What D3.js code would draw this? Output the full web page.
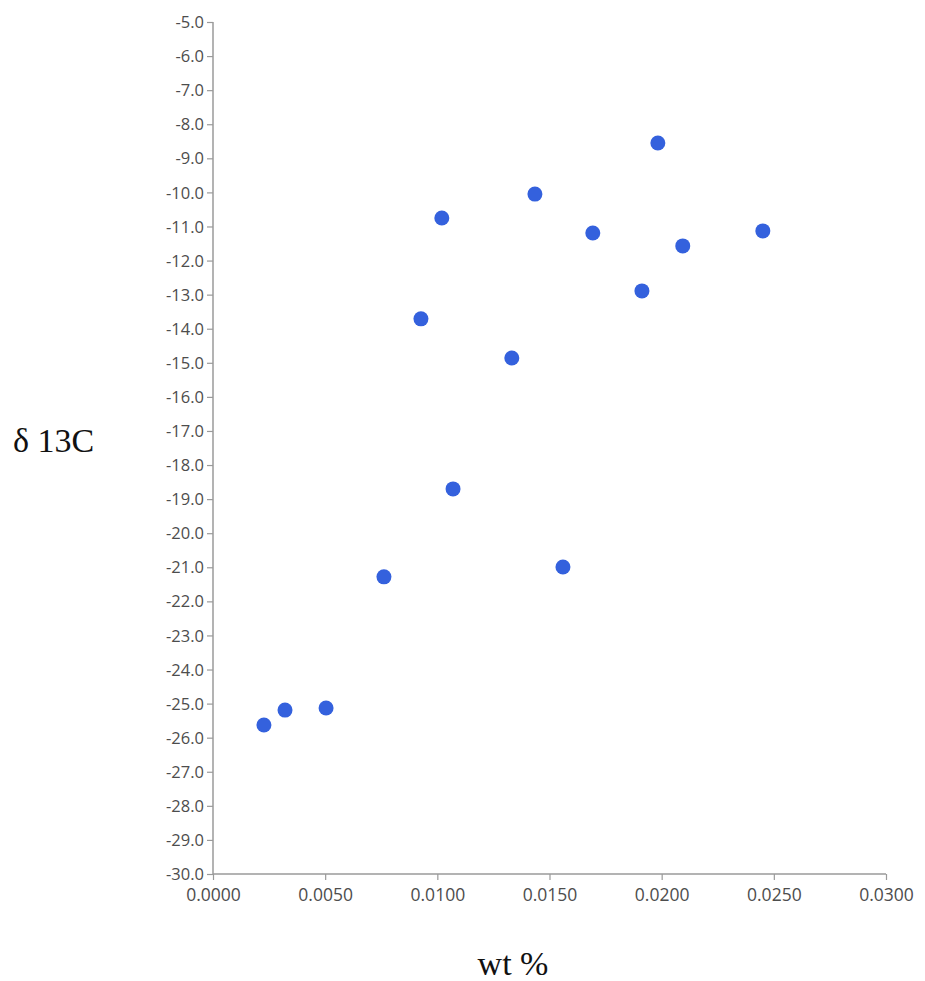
<!DOCTYPE html>
<html>
<head>
<meta charset="utf-8">
<script src="https://cdn.jsdelivr.net/npm/d3@7/dist/d3.min.js"></script>
<style>
  html, body { margin: 0; padding: 0; background: #fff; }
  svg { display: block; }
  .tick text { font-family: "Open Sans", "DejaVu Sans", sans-serif; font-size: 16.5px; fill: #4d4d4d; }
  .x-axis .tick text { font-size: 17.5px; }
  .axis-title { font-family: "Liberation Serif", "DejaVu Serif", serif; font-size: 34px; fill: #111; }
</style>
</head>
<body>
<svg id="chart" width="925" height="981"></svg>
<script>
// Carbon isotope ratio against weight percent
const wtPercent = [0.00227, 0.00321, 0.00504, 0.00762, 0.01070, 0.01560, 0.00927, 0.01020,
                   0.01332, 0.01435, 0.01983, 0.01693, 0.02094, 0.01912, 0.02451];
const delta13C  = [-25.63, -25.19, -25.13, -21.28, -18.70, -20.99, -13.71, -10.75,
                   -14.86, -10.05, -8.55, -11.19, -11.57, -12.89, -11.13];
const xTicks = [0, 0.005, 0.01, 0.015, 0.02, 0.025, 0.03];
const yTicks = d3.range(-30, -4, 1);

const svg = d3.select("#chart");
const plotLeft = 213, plotRight = 886, plotTop = 22, plotBottom = 874;

const x = d3.scaleLinear().domain([0, 0.03]).range([plotLeft, plotRight]);
const y = d3.scaleLinear().domain([-30, -5]).range([plotBottom, plotTop]);

const axisColor = "#9a9a9a";
// plain hyphen-minus for negative labels
const yFmt = d => d.toFixed(1);

const yAxis = svg.append("g")
  .attr("class", "y-axis")
  .attr("transform", `translate(${plotLeft},0)`)
  .call(d3.axisLeft(y).tickValues(yTicks).tickSize(6).tickPadding(3).tickFormat(yFmt));
yAxis.select(".domain").attr("stroke", axisColor).attr("stroke-width", 1.5).attr("d", `M0,${plotTop}V${plotBottom}`);
yAxis.selectAll(".tick line").attr("stroke", axisColor).attr("stroke-width", 1.2);
yAxis.selectAll(".tick text").attr("dy", "0.34em");

const xAxis = svg.append("g")
  .attr("class", "x-axis")
  .attr("transform", `translate(0,${plotBottom})`)
  .call(d3.axisBottom(x).tickValues(xTicks).tickSize(6).tickPadding(9).tickFormat(d => d.toFixed(4)));
xAxis.select(".domain").attr("stroke", axisColor).attr("stroke-width", 1.5).attr("d", `M${plotLeft},0H${plotRight}`);
xAxis.selectAll(".tick line").attr("stroke", axisColor).attr("stroke-width", 1.2);

// data points
svg.append("g")
  .selectAll("circle")
  .data(wtPercent.map((v, i) => [v, delta13C[i]]))
  .join("circle")
  .attr("cx", d => x(d[0]))
  .attr("cy", d => y(d[1]))
  .attr("r", 7.5)
  .attr("fill", "#3461dd");

// axis titles
svg.append("text").attr("class", "axis-title")
  .attr("x", 13).attr("y", 452)
  .text("δ 13C");

svg.append("text").attr("class", "axis-title")
  .attr("x", 513).attr("y", 975).attr("text-anchor", "middle")
  .text("wt %");
</script>
</body>
</html>
